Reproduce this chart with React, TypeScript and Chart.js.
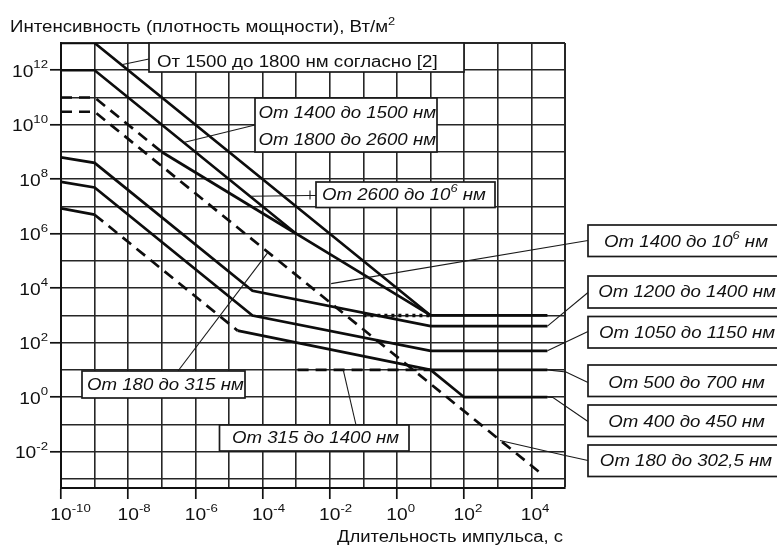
import React, { useEffect, useRef } from 'react';
import { Chart, registerables } from 'chart.js';

Chart.register(...registerables);

// ---------------- data (pulse duration, s  /  irradiance, W/m²) ----------------
const t1500 = [1e-10, 1e-9, 10, 3e4];
const e1500 = [1e13, 1e13, 1e3, 1e3];

const t1400 = [1e-10, 1e-9, 1e-3, 10];
const e1400 = [1e12, 1e12, 1e6, 1e3];

const t2600Dash = [1e-10, 1e-9, 1e-7];
const e2600Dash = [1e11, 1e11, 1e9];
const t2600 = [1e-7, 1e-3];
const e2600 = [1e9, 1e6];

const t1400Dot = [0.1, 10];
const e1400Dot = [1e3, 1e3];

const t1200 = [1e-10, 1e-9, 5e-5, 10, 3e4];
const e1200 = [6.3e8, 4e8, 8e3, 405, 405];

const t1050 = [1e-10, 1e-9, 5e-5, 10, 3e4];
const e1050 = [8e7, 5e7, 1e3, 50.6, 50.6];

const t400Start = [1e-10, 1e-9];
const e400Start = [8.5e6, 5e6];
const t400Dash = [1e-9, 1.8e-5];
const e400Dash = [5e6, 278];
const t500 = [1.8e-5, 10, 3e4];
const e500 = [278, 10.1, 10.1];

const t400450 = [10, 100, 3e4];
const e400450 = [10.1, 1, 1];

const t180 = [1e-10, 1e-9, 2.2e4];
const e180 = [3e10, 3e10, 1.4e-3];

const t315 = [1.1e-3, 10];
const e315 = [10, 10];

// axes (decade exponents)
const xDecades = [-10, -9, -8, -7, -6, -5, -4, -3, -2, -1, 0, 1, 2, 3, 4, 5];
const yDecades = [-3, -2, -1, 0, 1, 2, 3, 4, 5, 6, 7, 8, 9, 10, 11, 12, 13];
const xLabelExps = [-10, -8, -6, -4, -2, 0, 2, 4];
const yLabelExps = [-2, 0, 2, 4, 6, 8, 10, 12];

const titleText = 'Интенсивность (плотность мощности), Вт/м';
const xTitleText = 'Длительность импульса, с';

// ---------------- drawing helpers ----------------
const FONT = '"Liberation Sans", Arial, Helvetica, sans-serif';
type Seg = { t: string; sup?: boolean };

function setFont(ctx: CanvasRenderingContext2D, size: number, style: string) {
  ctx.font = `${style} ${size}px ${FONT}`;
}

function richWidth(ctx: CanvasRenderingContext2D, segs: Seg[], size: number, style: string) {
  let w = 0;
  for (const s of segs) {
    setFont(ctx, s.sup ? Math.round(size * 0.7) : size, style);
    w += ctx.measureText(s.t).width;
  }
  return w;
}

function drawRich(
  ctx: CanvasRenderingContext2D,
  segs: Seg[],
  x: number,
  y: number,
  size: number,
  style: string,
  sx: number,
  align: 'left' | 'right' | 'center',
  raise: number
) {
  const w = richWidth(ctx, segs, size, style) * sx;
  const x0 = align === 'left' ? x : align === 'right' ? x - w : x - w / 2;
  ctx.save();
  ctx.translate(x0, y);
  ctx.scale(sx, 1);
  ctx.textAlign = 'left';
  ctx.textBaseline = 'alphabetic';
  let cx = 0;
  for (const s of segs) {
    setFont(ctx, s.sup ? Math.round(size * 0.7) : size, style);
    ctx.fillText(s.t, cx, s.sup ? -raise : 0);
    cx += ctx.measureText(s.t).width;
  }
  ctx.restore();
}

function fitScale(ctx: CanvasRenderingContext2D, text: string, size: number, style: string, target: number) {
  setFont(ctx, size, style);
  return target / ctx.measureText(text).width;
}

type Box = { x0: number; x1: number; y0: number; y1: number; lines: { segs: Seg[]; x: number; y: number; align: 'left' | 'center' }[]; italic: boolean };

const boxes: Box[] = [
  { x0: 149, x1: 464, y0: 43, y1: 72, italic: false, lines: [{ segs: [{ t: 'От 1500 до 1800 нм согласно [2]' }], x: 157, y: 67, align: 'left' }] },
  {
    x0: 255, x1: 437, y0: 98, y1: 152, italic: true,
    lines: [
      { segs: [{ t: 'От 1400 до 1500 нм' }], x: 258.5, y: 118, align: 'left' },
      { segs: [{ t: 'От 1800 до 2600 нм' }], x: 258.5, y: 145, align: 'left' },
    ],
  },
  { x0: 316, x1: 495, y0: 182, y1: 207.5, italic: true, lines: [{ segs: [{ t: 'От 2600 до 10' }, { t: '6', sup: true }, { t: ' нм' }], x: 322, y: 200, align: 'left' }] },
  { x0: 82, x1: 245, y0: 371, y1: 398, italic: true, lines: [{ segs: [{ t: 'От 180 до 315 нм' }], x: 87, y: 390, align: 'left' }] },
  { x0: 219.5, x1: 409, y0: 425, y1: 451, italic: true, lines: [{ segs: [{ t: 'От 315 до 1400 нм' }], x: 232, y: 443, align: 'left' }] },
  { x0: 588, x1: 795, y0: 225, y1: 256.5, italic: true, lines: [{ segs: [{ t: 'От 1400 до 10' }, { t: '6', sup: true }, { t: ' нм' }], x: 686, y: 246.5, align: 'center' }] },
  { x0: 588, x1: 795, y0: 276, y1: 308, italic: true, lines: [{ segs: [{ t: 'От 1200 до 1400 нм' }], x: 687, y: 297, align: 'center' }] },
  { x0: 588, x1: 795, y0: 316.5, y1: 348, italic: true, lines: [{ segs: [{ t: 'От 1050 до 1150 нм' }], x: 687, y: 337.5, align: 'center' }] },
  { x0: 588, x1: 795, y0: 365, y1: 396.5, italic: true, lines: [{ segs: [{ t: 'От 500 до 700 нм' }], x: 686.5, y: 387.5, align: 'center' }] },
  { x0: 588, x1: 795, y0: 405, y1: 436.5, italic: true, lines: [{ segs: [{ t: 'От 400 до 450 нм' }], x: 686.5, y: 427, align: 'center' }] },
  { x0: 588, x1: 795, y0: 445, y1: 476.5, italic: true, lines: [{ segs: [{ t: 'От 180 до 302,5 нм' }], x: 686, y: 466, align: 'center' }] },
];

// leader lines: target on a curve (data coords), then pixel points toward the box
const leaders: { target: [number, number]; via: [number, number][] }[] = [
  { target: [10 ** -8.2, 10 ** 12.2], via: [[149, 59]] },
  { target: [10 ** -6.35, 10 ** 9.35], via: [[255, 125]] },
  { target: [10 ** -4.375, 10 ** 7.375], via: [[310, 195.5], [316, 195.5]] },
  { target: [10 ** -3.84, 10 ** 5.317], via: [[178, 371]] },
  { target: [10 ** -1.6, 10], via: [[356, 425]] },
  { target: [10 ** -1.96, 10 ** 4.17], via: [[588, 240.5]] },
  { target: [3e4, 405], via: [[588, 292.5]] },
  { target: [3e4, 50.6], via: [[588, 331.5]] },
  { target: [3e4, 10.1], via: [[566, 372], [588, 382.5]] },
  { target: [3e4, 1], via: [[553, 397.5], [588, 421.5]] },
  { target: [10 ** 3.065, 10 ** -1.588], via: [[563, 455], [588, 460.5]] },
];

const INK = '#101010';

const annotatePlugin = {
  id: 'annotate',
  afterDraw(chart: any) {
    const ctx: CanvasRenderingContext2D = chart.ctx;
    const xs = chart.scales.x;
    const ys = chart.scales.y;
    ctx.save();
    ctx.fillStyle = INK;

    const TSX = 1.2;
    // y tick labels
    for (const e of yLabelExps) {
      const py = ys.getPixelForValue(10 ** e);
      drawRich(ctx, [{ t: '10' }, { t: String(e), sup: true }], 48, py + 6.5, 16, 'normal', TSX, 'right', 8.4);
    }
    // x tick labels
    for (const e of xLabelExps) {
      const px = xs.getPixelForValue(10 ** e);
      setFont(ctx, 16, 'normal');
      const bw = ctx.measureText('10').width * TSX;
      drawRich(ctx, [{ t: '10' }, { t: String(e), sup: true }], px - bw / 2, 520, 16, 'normal', TSX, 'left', 8.3);
    }

    // titles
    const sT = fitScale(ctx, titleText, 16, 'normal', 378);
    drawRich(ctx, [{ t: titleText }, { t: '2', sup: true }], 10, 31.5, 16, 'normal', sT, 'left', 7);
    const sX = fitScale(ctx, xTitleText, 16, 'normal', 226);
    drawRich(ctx, [{ t: xTitleText }], 563, 542, 16, 'normal', sX, 'right', 7);

    // leaders
    ctx.strokeStyle = '#1a1a1a';
    ctx.lineWidth = 1.1;
    for (const L of leaders) {
      ctx.beginPath();
      ctx.moveTo(xs.getPixelForValue(L.target[0]), ys.getPixelForValue(L.target[1]));
      for (const p of L.via) ctx.lineTo(p[0], p[1]);
      ctx.stroke();
    }
    // small tick at the end of the "2600" leader
    ctx.beginPath();
    ctx.moveTo(310, 190.5);
    ctx.lineTo(310, 199.5);
    ctx.stroke();

    // boxes
    const sI = fitScale(ctx, 'От 500 до 700 нм', 16, 'italic', 156.7);
    const sU = fitScale(ctx, 'От 1500 до 1800 нм согласно [2]', 16, 'normal', 280.6);
    for (const b of boxes) {
      ctx.fillStyle = '#ffffff';
      ctx.fillRect(b.x0, b.y0, b.x1 - b.x0, b.y1 - b.y0);
      ctx.strokeStyle = '#1a1a1a';
      ctx.lineWidth = 1.7;
      ctx.strokeRect(b.x0, b.y0, b.x1 - b.x0, b.y1 - b.y0);
      ctx.fillStyle = INK;
      for (const l of b.lines) {
        drawRich(ctx, l.segs, l.x, l.y, 16, b.italic ? 'italic' : 'normal', b.italic ? sI : sU, l.align, 8);
      }
    }
    ctx.restore();
  },
};

function makeSeries(t: number[], e: number[], dash: number[], width = 2.7) {
  return {
    data: t.map((x, i) => ({ x, y: e[i] })),
    borderColor: '#0d0d0d',
    borderWidth: width,
    borderDash: dash,
    borderCapStyle: 'butt' as const,
    pointRadius: 0,
    fill: false,
    tension: 0,
  };
}

const DASH = [11, 7];

export default function App() {
  const ref = useRef<HTMLCanvasElement | null>(null);

  useEffect(() => {
    if (!ref.current) return;
    const isEven = (v: number) => Math.round(Math.log10(v)) % 2 === 0;
    const gridCommon = (isEdge: (v: number) => boolean) => ({
      color: '#262626',
      lineWidth: (c: any) => (c.tick && isEdge(c.tick.value) ? 2 : 1.6),
      drawTicks: true,
      tickLength: 11,
      tickWidth: 1.7,
      tickColor: (c: any) => (c.tick && isEven(c.tick.value) ? '#111111' : 'rgba(0,0,0,0)'),
    });

    const chart = new Chart(ref.current, {
      type: 'line',
      data: {
        datasets: [
          makeSeries(t1500, e1500, []),
          makeSeries(t1400, e1400, []),
          makeSeries(t2600Dash, e2600Dash, DASH),
          makeSeries(t2600, e2600, []),
          makeSeries(t1400Dot, e1400Dot, [3, 4], 3.4),
          makeSeries(t1200, e1200, []),
          makeSeries(t1050, e1050, []),
          makeSeries(t400Start, e400Start, []),
          makeSeries(t400Dash, e400Dash, DASH),
          makeSeries(t500, e500, []),
          makeSeries(t400450, e400450, []),
          makeSeries(t180, e180, DASH),
          makeSeries(t315, e315, DASH),
        ] as any,
      },
      options: {
        animation: false,
        responsive: false,
        maintainAspectRatio: false,
        layout: { padding: { left: 0, top: 43, right: 212, bottom: 0 } },
        plugins: { legend: { display: false }, tooltip: { enabled: false }, title: { display: false } },
        scales: {
          x: {
            type: 'logarithmic',
            min: 1e-10,
            max: 1e5,
            afterBuildTicks: (s: any) => {
              s.ticks = xDecades.map((d) => ({ value: 10 ** d }));
            },
            afterFit: (s: any) => {
              s.height = 58;
            },
            ticks: { display: false },
            grid: gridCommon((v) => Math.abs(Math.log10(v) - 5) < 0.01),
            border: { display: true, color: '#111111', width: 2 },
          },
          y: {
            type: 'logarithmic',
            min: 10 ** -3.332,
            max: 1e13,
            afterBuildTicks: (s: any) => {
              s.ticks = yDecades.map((d) => ({ value: 10 ** d }));
            },
            afterFit: (s: any) => {
              s.width = 61;
            },
            ticks: { display: false },
            grid: gridCommon((v) => Math.abs(Math.log10(v) - 13) < 0.01),
            border: { display: true, color: '#111111', width: 2 },
          },
        },
      } as any,
      plugins: [annotatePlugin],
    });
    return () => chart.destroy();
  }, []);

  return (
    <div style={{ position: 'fixed', left: 0, top: 0, width: 777, height: 546, background: '#ffffff' }}>
      <canvas ref={ref} width={777} height={546} style={{ width: 777, height: 546, display: 'block' }} />
    </div>
  );
}
